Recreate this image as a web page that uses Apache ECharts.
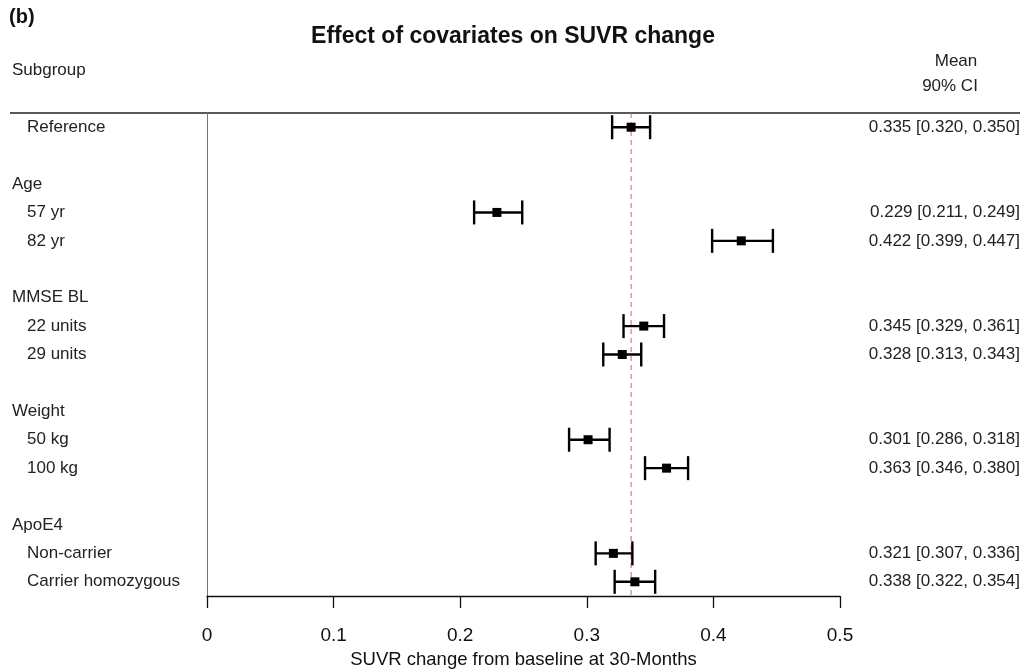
<!DOCTYPE html>
<html><head><meta charset="utf-8">
<script src="https://cdn.jsdelivr.net/npm/echarts@6/dist/echarts.min.js"></script>
<style>html,body{margin:0;padding:0;background:#fff}#c{width:1026px;height:671px}</style>
</head><body><div id="c"></div>
<script>
// rows (top to bottom); type h = group header, s = sub item, b = blank
var rowLabels = ['Reference','', 'Age','57 yr','82 yr','', 'MMSE BL','22 units','29 units','', 'Weight','50 kg','100 kg','', 'ApoE4','Non-carrier','Carrier homozygous'];
var rowTypes  = ['s','b','h','s','s','b','h','s','s','b','h','s','s','b','h','s','s'];
var means = [0.335,null,null,0.229,0.422,null,null,0.345,0.328,null,null,0.301,0.363,null,null,0.321,0.338];
var lows  = [0.320,null,null,0.211,0.399,null,null,0.329,0.313,null,null,0.286,0.346,null,null,0.307,0.322];
var highs = [0.350,null,null,0.249,0.447,null,null,0.361,0.343,null,null,0.318,0.380,null,null,0.336,0.354];
var refValue = 0.335;
var xTicks = [0,0.1,0.2,0.3,0.4,0.5];

var font = 'Liberation Sans, Arial, Helvetica, sans-serif';
var data = [];
for (var i = 0; i < rowLabels.length; i++) {
  if (means[i] != null) data.push([i, means[i], lows[i], highs[i]]);
}
function fmt(v){ return v.toFixed(3); }
var rightLabels = rowLabels.map(function(l, i){
  return means[i] != null ? fmt(means[i]) + ' [' + fmt(lows[i]) + ', ' + fmt(highs[i]) + ']' : '';
});

var chart = echarts.init(document.getElementById('c'));
chart.setOption({
  animation: false,
  backgroundColor: '#fff',
  textStyle: { fontFamily: font },
  title: {
    text: 'Effect of covariates on SUVR change', left: 'center', top: 20,
    textStyle: { fontFamily: font, fontSize: 23, fontWeight: 'bold', color: '#111' }
  },
  graphic: [
    { type: 'text', left: 9, top: 7, style: { text: '(b)', font: 'bold 20px ' + font, fill: '#111' } },
    { type: 'text', left: 12, top: 62, style: { text: 'Subgroup', font: '17px ' + font, fill: '#222' } },
    { type: 'text', x: 956, y: 53, style: { text: 'Mean', font: '17px ' + font, fill: '#222', textAlign: 'center' } },
    { type: 'text', x: 950, y: 78, style: { text: '90% CI', font: '17px ' + font, fill: '#222', textAlign: 'center' } },
    { type: 'line', shape: { x1: 10, y1: 113, x2: 1020, y2: 113 }, style: { stroke: '#222', lineWidth: 1.5 } }
  ],
  grid: { left: 207, right: 186, top: 113, bottom: 75, outerBoundsMode: 'none', containLabel: false },
  xAxis: {
    type: 'value', min: 0, max: 0.5, interval: 0.1,
    axisLine: { show: true, onZero: false, lineStyle: { color: '#111', width: 1.3 } },
    axisTick: { show: true, length: 12, lineStyle: { color: '#111', width: 1.3 } },
    splitLine: { show: false },
    axisLabel: { fontSize: 19, color: '#111', margin: 30, fontFamily: font,
      formatter: function(v){ return String(Math.round(v*10)/10); } },
    name: 'SUVR change from baseline at 30-Months', nameLocation: 'middle', nameGap: 54,
    nameTextStyle: { fontSize: 18.5, color: '#111', fontFamily: font }
  },
  yAxis: [{
    type: 'category', inverse: true, data: rowLabels,
    axisLine: { show: true, lineStyle: { color: '#777', width: 1 } },
    axisTick: { show: false },
    axisLabel: {
      align: 'left', margin: 195, fontFamily: font, fontSize: 17, color: '#222',
      formatter: function(v, i){ return rowTypes[i] === 's' ? '{s|' + v + '}' : '{h|' + v + '}'; },
      rich: { s: { fontSize: 17, color: '#222', fontFamily: font, padding: [0,0,0,15] },
              h: { fontSize: 17, color: '#222', fontFamily: font } }
    }
  }, {
    type: 'category', inverse: true, data: rightLabels, position: 'right',
    axisLine: { show: false }, axisTick: { show: false },
    axisLabel: { align: 'right', margin: 180, fontFamily: font, fontSize: 17, color: '#222' }
  }],
  series: [{
    type: 'custom',
    data: [[refValue]],
    encode: { x: 0 },
    renderItem: function(params, api) {
      var cs = params.coordSys;
      var x = api.coord([api.value(0), 0])[0];
      return { type: 'line', shape: { x1: x, y1: cs.y, x2: x, y2: cs.y + cs.height },
        style: { stroke: '#e05a6e', lineWidth: 1, lineDash: [5, 4] } };
    },
    z: 2
  }, {
    type: 'custom',
    data: data,
    encode: { x: [1,2,3], y: 0 },
    renderItem: function(params, api) {
      var y = api.value(0);
      var pm = api.coord([api.value(1), y]);
      var pl = api.coord([api.value(2), y]);
      var ph = api.coord([api.value(3), y]);
      var cap = 12, sq = 4.5;
      var st = { stroke: '#000', lineWidth: 2.4 };
      return { type: 'group', children: [
        { type: 'line', shape: { x1: pl[0], y1: pl[1], x2: ph[0], y2: ph[1] }, style: st },
        { type: 'line', shape: { x1: pl[0], y1: pl[1]-cap, x2: pl[0], y2: pl[1]+cap }, style: st },
        { type: 'line', shape: { x1: ph[0], y1: ph[1]-cap, x2: ph[0], y2: ph[1]+cap }, style: st },
        { type: 'rect', shape: { x: pm[0]-sq, y: pm[1]-sq, width: 2*sq, height: 2*sq }, style: { fill: '#000' } }
      ]};
    },
    z: 3
  }]
});
</script></body></html>
